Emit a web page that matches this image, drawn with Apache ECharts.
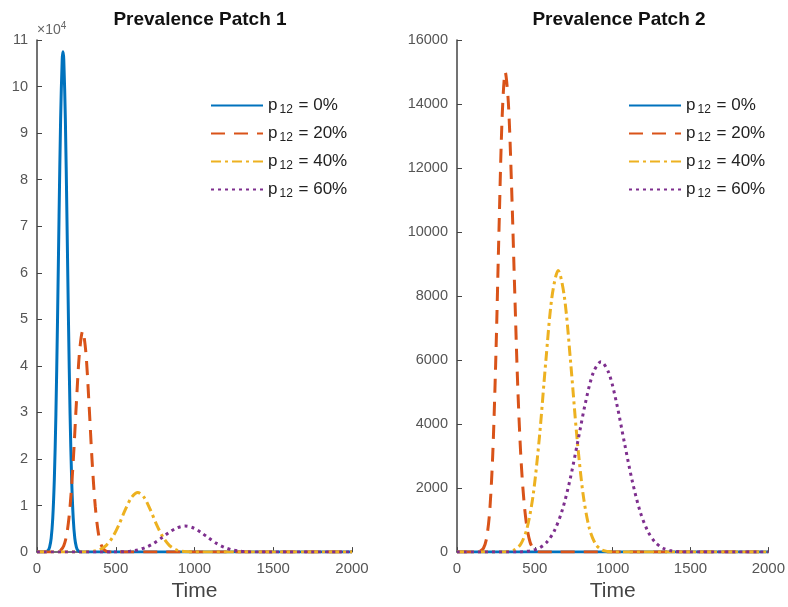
<!DOCTYPE html>
<html>
<head>
<meta charset="utf-8">
<script src="https://cdn.jsdelivr.net/npm/echarts@6/dist/echarts.min.js"></script>
<style>
  html, body { margin: 0; padding: 0; background: #fff; }
  #chart { width: 788px; height: 607px; }
</style>
</head>
<body>
<div id="chart"></div>
<script>
// legend names (p12 share)
const shares = ['0%', '20%', '40%', '60%']
const colors = ['#0072BD', '#D95319', '#EDB120', '#7E2F8E']

// Patch 1 (values in persons, axis shown in 10^4)
const p1_0_t = [0, 50, 70, 80, 90, 100, 110, 120, 130, 140, 150, 160, 165, 170, 180, 190, 200, 210, 220, 230, 240, 250, 260, 280, 2000]
const p1_0_v = [0, 0, 340, 1070, 2970, 7270, 15600, 29570, 49230, 72140, 93100, 105800, 107500, 105800, 93100, 72140, 49230, 29570, 15600, 7270, 2970, 1070, 340, 20, 0]

const p1_20_t = [0, 110, 130, 150, 170, 190, 210, 230, 250, 270, 290, 310, 330, 350, 370, 390, 410, 430, 450, 470, 2000]
const p1_20_v = [0, 0, 85, 375, 1350, 4000, 9800, 19500, 32000, 43000, 47500, 43000, 32000, 19500, 9800, 4000, 1350, 375, 85, 0, 0]

const p1_40_t = [0, 260, 280, 320, 360, 400, 440, 480, 520, 560, 600, 640, 680, 720, 760, 800, 840, 880, 920, 960, 1000, 1040, 2000]
const p1_40_v = [0, 0, 12, 50, 180, 560, 1460, 3190, 5860, 9050, 11740, 12800, 11740, 9050, 5860, 3190, 1460, 560, 180, 50, 12, 0, 0]

const p1_60_t = [0, 400, 440, 490, 540, 590, 640, 690, 740, 790, 840, 890, 940, 990, 1040, 1090, 1140, 1190, 1240, 1290, 1340, 1390, 1440, 1480, 2000]
const p1_60_v = [0, 0, 6, 22, 69, 194, 474, 1010, 1870, 3020, 4260, 5230, 5600, 5230, 4260, 3020, 1870, 1010, 474, 194, 69, 22, 6, 0, 0]

// Patch 2
const p2_0_t = [0, 2000]
const p2_0_v = [0, 0]

const p2_20_t = [0, 130, 150, 170, 190, 210, 230, 250, 270, 290, 310, 330, 350, 370, 390, 410, 430, 450, 470, 490, 510, 530, 2000]
const p2_20_v = [0, 0, 30, 120, 430, 1270, 3090, 6170, 10110, 13590, 15000, 14040, 11520, 8280, 5210, 3000, 1600, 750, 300, 110, 35, 0, 0]

const p2_40_t = [0, 300, 330, 370, 410, 450, 490, 530, 570, 610, 650, 690, 730, 770, 810, 850, 890, 930, 970, 1000, 2000]
const p2_40_v = [0, 0, 16, 70, 250, 745, 1810, 3620, 5930, 7970, 8800, 7970, 5930, 3620, 1810, 745, 250, 70, 16, 0, 0]

const p2_60_t = [0, 390, 425, 475, 525, 575, 625, 675, 725, 775, 825, 875, 925, 975, 1025, 1075, 1125, 1175, 1225, 1275, 1325, 1375, 1425, 1475, 2000]
const p2_60_v = [0, 0, 13, 42, 119, 298, 660, 1290, 2240, 3430, 4660, 5600, 5950, 5600, 4660, 3430, 2240, 1290, 660, 298, 119, 42, 13, 0, 0]

const patch1 = [[p1_0_t, p1_0_v], [p1_20_t, p1_20_v], [p1_40_t, p1_40_v], [p1_60_t, p1_60_v]]
const patch2 = [[p2_0_t, p2_0_v], [p2_20_t, p2_20_v], [p2_40_t, p2_40_v], [p2_60_t, p2_60_v]]

const zip = (t, v) => t.map((x, i) => [x, v[i]])

const font = 'Liberation Sans, Arial, Helvetica, sans-serif'
const lineTypes = ['solid', [14, 9], [10, 4, 3, 4], [3, 4]]

function makeSeries(list, idx) {
  return list.map((pair, i) => ({
    name: shares[i],
    type: 'line',
    xAxisIndex: idx,
    yAxisIndex: idx,
    data: zip(pair[0], pair[1]),
    showSymbol: false,
    symbol: 'none',
    smooth: 0.3,
    lineStyle: { color: colors[i], width: 3, type: lineTypes[i] },
    itemStyle: { color: colors[i] },
    z: 2 + i,
  }))
}

function xAxis(idx) {
  return {
    type: 'value',
    gridIndex: idx,
    min: 0, max: 2000, interval: 500,
    name: 'Time',
    nameLocation: 'middle',
    nameGap: 28,
    nameTextStyle: { fontSize: 21, color: '#444', fontFamily: font },
    axisLine: { lineStyle: { color: '#444', width: 1.5 } },
    axisTick: { inside: true, length: 5, lineStyle: { color: '#444' } },
    axisLabel: { fontSize: 15, color: '#555', fontFamily: font, margin: 9, formatter: v => String(v) },
    splitLine: { show: false },
  }
}

function yAxis(idx, max, interval, formatter) {
  return {
    type: 'value',
    gridIndex: idx,
    min: 0, max: max, interval: interval,
    axisLine: { show: true, lineStyle: { color: '#444', width: 1.5 } },
    axisTick: { show: true, inside: true, length: 5, lineStyle: { color: '#444' } },
    axisLabel: { fontSize: 14.5, color: '#555', fontFamily: font, margin: 9, formatter: formatter },
    splitLine: { show: false },
  }
}

function legend(left) {
  return {
    orient: 'vertical',
    left: left,
    top: 95,
    padding: 0,
    itemWidth: 52,
    itemHeight: 14,
    itemGap: 7,
    data: shares,
    selectedMode: false,
    itemStyle: { opacity: 0 },
    formatter: name => '{p|p}{s|12}{p| = ' + name + '}',
    textStyle: {
      fontFamily: font,
      color: '#222',
      rich: {
        p: { fontSize: 17, color: '#222', fontFamily: font, lineHeight: 20 },
        s: { fontSize: 12, color: '#222', fontFamily: font, padding: [9, 1, 0, 2], lineHeight: 20 },
      },
    },
  }
}

const chart = echarts.init(document.getElementById('chart'), null, { renderer: 'canvas' })

chart.setOption({
  animation: false,
  backgroundColor: '#fff',
  title: [
    { text: 'Prevalence Patch 1', left: 195, top: 5, textAlign: 'center',
      textStyle: { fontSize: 19, fontWeight: 'bold', color: '#111', fontFamily: font } },
    { text: 'Prevalence Patch 2', left: 614, top: 5, textAlign: 'center',
      textStyle: { fontSize: 19, fontWeight: 'bold', color: '#111', fontFamily: font } },
  ],
  graphic: [{
    type: 'text',
    left: 37,
    top: 21,
    style: {
      text: '{a|×10}{b|4}',
      rich: {
        a: { fontSize: 14, fill: '#666', fontFamily: font },
        b: { fontSize: 10, fill: '#666', fontFamily: font, padding: [0, 0, 8, 0] },
      },
    },
  }],
  legend: [legend(210), legend(628)],
  grid: [
    { left: 37, top: 40, width: 315, height: 516 },
    { left: 457, top: 40, width: 315, height: 516 },
  ],
  xAxis: [xAxis(0), xAxis(1)],
  yAxis: [
    yAxis(0, 110000, 10000, v => String(v / 10000)),
    yAxis(1, 16000, 2000, v => String(v)),
  ],
  series: makeSeries(patch1, 0).concat(makeSeries(patch2, 1)),
})
</script>
</body>
</html>
